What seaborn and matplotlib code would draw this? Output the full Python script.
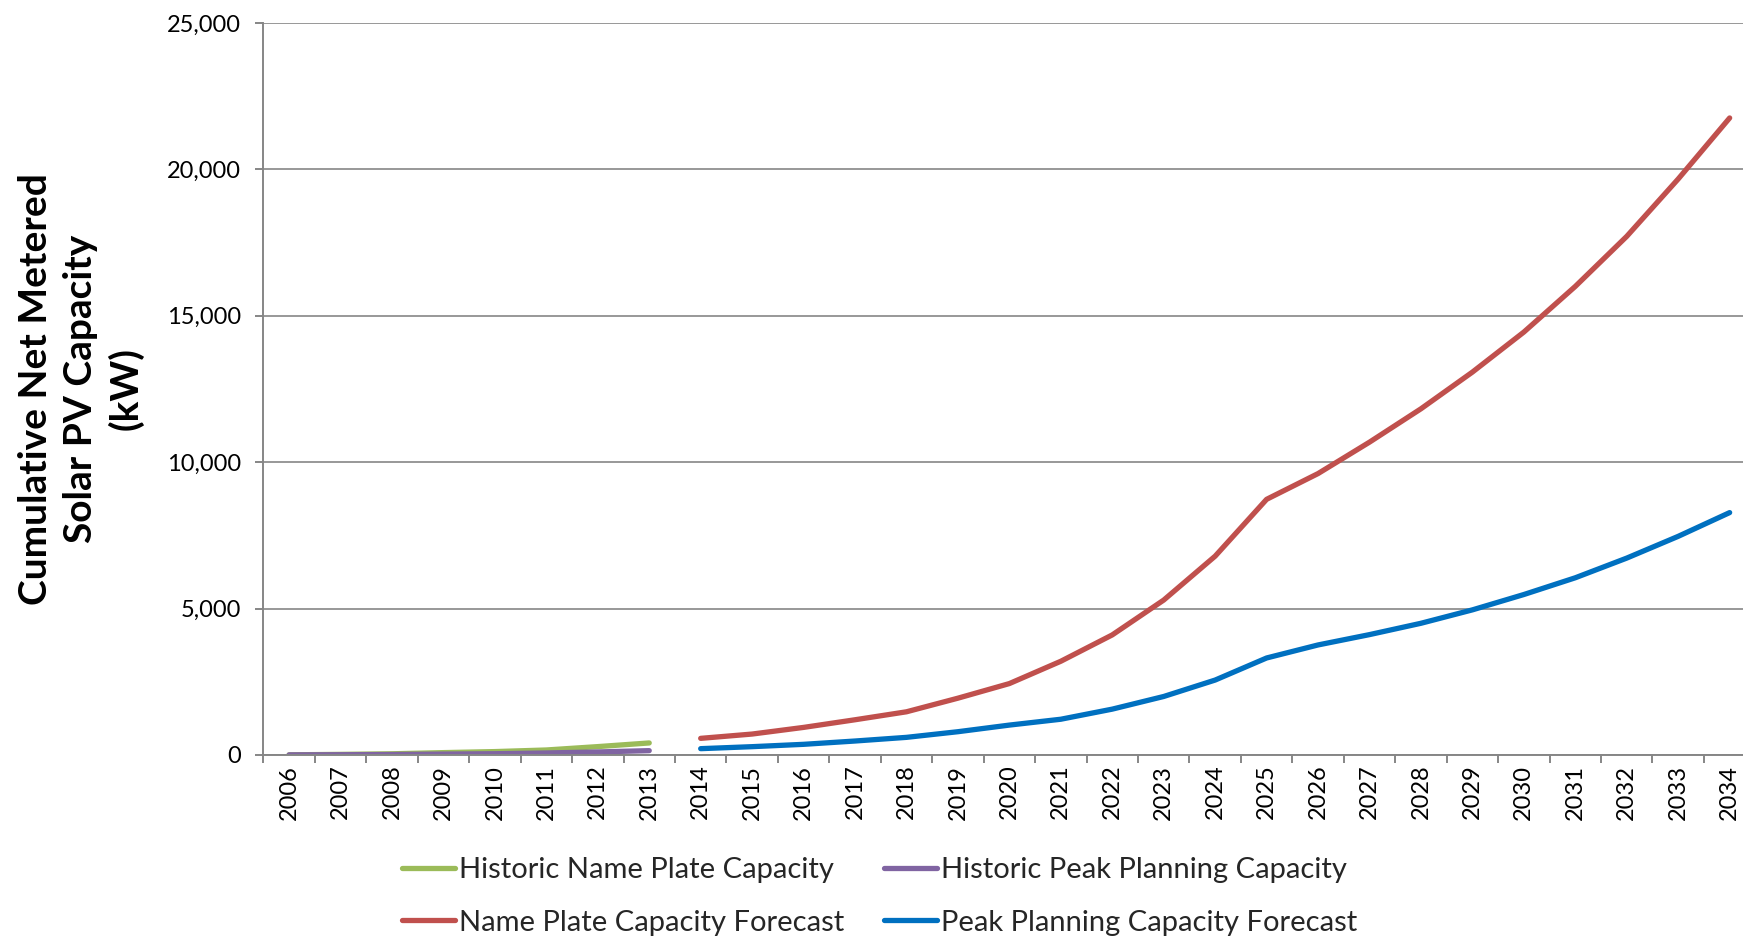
import numpy as np
import pandas as pd
import matplotlib
matplotlib.use("Agg")
import matplotlib.pyplot as plt
import seaborn as sns
from matplotlib.ticker import FuncFormatter, FixedLocator

# ---- data ----
years_hist = list(range(2006, 2014))
hist_nameplate = [5, 20, 40, 80, 115, 170, 285, 410]
hist_peak = [3, 8, 15, 30, 42, 68, 103, 147]

years_fc = list(range(2014, 2035))
fc_nameplate = [567, 714, 941, 1202, 1474, 1939, 2438, 3200, 4100, 5290, 6790,
                8730, 9610, 10683, 11822, 13075, 14442, 16002, 17711, 19670, 21754]
fc_peak = [215, 283, 363, 476, 601, 794, 1020, 1220, 1565, 1997, 2558,
           3312, 3757, 4110, 4497, 4955, 5479, 6051, 6723, 7466, 8277]

series_names = ["Historic Name Plate Capacity", "Historic Peak Planning Capacity",
                "Name Plate Capacity Forecast", "Peak Planning Capacity Forecast"]
series_colors = ["#9BBB59", "#8064A2", "#C0504D", "#0070C0"]
year_labels = [str(y) for y in range(2006, 2035)]
y_ticks = [0, 5000, 10000, 15000, 20000, 25000]
y_label = "Cumulative Net Metered\nSolar PV Capacity\n(kW)"

frames = [
    pd.DataFrame({"Year": years_hist, "kW": hist_nameplate, "Series": series_names[0]}),
    pd.DataFrame({"Year": years_hist, "kW": hist_peak, "Series": series_names[1]}),
    pd.DataFrame({"Year": years_fc, "kW": fc_nameplate, "Series": series_names[2]}),
    pd.DataFrame({"Year": years_fc, "kW": fc_peak, "Series": series_names[3]}),
]
df = pd.concat(frames, ignore_index=True)

sns.set_theme(style="white")
plt.rcParams["font.family"] = ["Lato", "DejaVu Sans"]

grey = "#868686"
W, H = 1743, 939
fig = plt.figure(figsize=(W / 100, H / 100), dpi=100)
ax = fig.add_axes([0.1511, 0.196, 0.856, 0.7796])

sns.lineplot(data=df, x="Year", y="kW", hue="Series", hue_order=series_names,
             palette=dict(zip(series_names, series_colors)), linewidth=3.8,
             solid_capstyle="round", ax=ax, legend=True, sort=False)

handles, labels = ax.get_legend_handles_labels()
ax.get_legend().remove()
hmap = dict(zip(labels, handles))

ax.set_xlim(2005.5, 2034.5)
ax.set_ylim(0, 25000)
ax.set_yticks(y_ticks)
ax.yaxis.set_major_formatter(FuncFormatter(lambda v, p: f"{int(v):,}"))
ax.set_xticks(range(2006, 2035))
ax.set_xticklabels(year_labels, rotation=90)
ax.xaxis.set_minor_locator(FixedLocator(np.arange(2005.5, 2035.0, 1.0)))

ax.grid(axis="y", color=grey, linewidth=1.2)
ax.grid(axis="x", visible=False)
ax.set_axisbelow(True)
for s in ["top", "right"]:
    ax.spines[s].set_visible(False)
for s in ["left", "bottom"]:
    ax.spines[s].set_color(grey)
    ax.spines[s].set_linewidth(1.4)

ax.tick_params(axis="x", which="major", length=0, pad=7, labelsize=17, colors="black")
ax.tick_params(axis="x", which="minor", length=6, width=1.4, color=grey, bottom=True)
ax.tick_params(axis="y", which="major", length=6, width=1.4, color=grey, left=True,
               pad=10, labelsize=17, labelcolor="black")
ax.set_xlabel("")
ax.set_ylabel("")
fig.text(81 / W, 1 - 389 / H, y_label, rotation=90, ha="center", va="center",
         multialignment="center", fontsize=28, fontweight="bold",
         linespacing=1.33, color="black")

leg_kw = dict(loc="upper left", frameon=False, fontsize=21, handlelength=1.82,
              handletextpad=0.15, labelspacing=0.91, borderpad=0, borderaxespad=0)
fig.legend([hmap[series_names[0]], hmap[series_names[2]]],
           [series_names[0], series_names[2]],
           bbox_to_anchor=(402 / W, 0.0873), **leg_kw)
fig.legend([hmap[series_names[1]], hmap[series_names[3]]],
           [series_names[1], series_names[3]],
           bbox_to_anchor=(884 / W, 0.0873), **leg_kw)

fig.savefig("out.png", dpi=100)
